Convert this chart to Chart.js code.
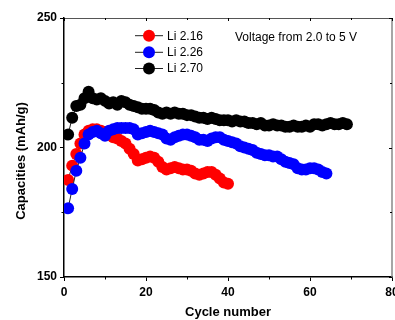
<!DOCTYPE html>
<html>
<head>
<meta charset="utf-8">
<script src="https://cdn.jsdelivr.net/npm/chart.js@4/dist/chart.umd.min.js"></script>
<style>
  html, body { margin: 0; padding: 0; background: #fff; }
  #wrap { width: 395px; height: 320px; }
</style>
</head>
<body>
<div id="wrap"><canvas id="chart" width="395" height="320"></canvas></div>
<script>
// cycle numbers (x), shared by all three series
const cycles = [1,2,3,4,5,6,7,8,9,10,11,12,13,14,15,16,17,18,19,20,
  21,22,23,24,25,26,27,28,29,30,31,32,33,34,35,36,37,38,39,40,
  41,42,43,44,45,46,47,48,49,50,51,52,53,54,55,56,57,58,59,60,
  61,62,63,64,65,66,67,68,69]

const seriesNames = ['Li 2.16', 'Li 2.26', 'Li 2.70']
const seriesColors = ['#ff0000', '#0000ff', '#000000']

// capacities (mAh/g)
const li216 = [187.5,193,197.5,201.5,205,206.5,207,207,206.5,206,
  205,204,203.5,202.5,201.5,199.5,197.5,195,195.5,196,
  196.5,196,194.5,192.5,191.5,192,192.5,192,191.5,191.5,
  191,190,189.5,190,190.5,190.5,189.5,188,186.5,186]

const li226 = [176.5,184,191,196,201.5,205,206,206.5,205.5,204.5,
  206.5,207,207.5,207.5,207.5,207.5,207,205,205.5,206,
  206.5,206,205.5,205,203.5,203,204,204.5,205,205,
  204.5,204,203,203,202.5,203.5,204,204,203,202.5,
  202,201.5,200.5,200,199.5,199,198,197.5,197,197,
  196.5,196.5,195.5,194.5,194,193.5,192,191.5,191.5,192,
  192,191.5,190.5,190]

const li270 = [205,211.5,216,216.5,219,221.5,219,218.5,219,218,
  217,217.5,216.5,218,217.5,216.5,216,215.5,215,215,
  215,214.5,213.5,213,213.5,213,213.5,213,213,212.5,
  212.5,212,211.5,211.5,211,211.5,211,210.5,210.5,210.5,
  210,210.5,210,210,209.5,209.5,209,209.5,208.5,208.5,
  209,208.5,208.5,208,208,208.5,208,208,208.5,208,
  209,209,208.5,209,209.5,209,209,209.5,209]

const xTicks = [0, 20, 40, 60, 80]
const xMinor = [10, 30, 50, 70]
const yTicks = [150, 200, 250]
const yMinor = [175, 225]

const FONT = "'Liberation Sans', Arial, sans-serif"

// frame, minor ticks, inward ticks on top/right, legend, note, y title
const decorPlugin = {
  id: 'decor',
  afterDraw(chart) {
    const ctx = chart.ctx
    const area = chart.chartArea
    const xs = chart.scales.x
    const ys = chart.scales.y
    ctx.save()

    // top and right frame
    ctx.strokeStyle = '#555'
    ctx.lineWidth = 1
    ctx.beginPath()
    ctx.moveTo(area.left, area.top + 0.5)
    ctx.lineTo(area.right, area.top + 0.5)
    ctx.stroke()
    ctx.strokeStyle = '#888'
    ctx.lineWidth = 1.5
    ctx.beginPath()
    ctx.moveTo(area.right, area.top)
    ctx.lineTo(area.right, area.bottom)
    ctx.stroke()

    ctx.strokeStyle = '#000'
    ctx.lineWidth = 1
    ctx.beginPath()
    xTicks.forEach(v => {
      const px = Math.round(xs.getPixelForValue(v)) + 0.5
      ctx.moveTo(px, area.top); ctx.lineTo(px, area.top + 3)
    })
    xMinor.forEach(v => {
      const px = Math.round(xs.getPixelForValue(v)) + 0.5
      ctx.moveTo(px, area.bottom); ctx.lineTo(px, area.bottom + 2.5)
      ctx.moveTo(px, area.top); ctx.lineTo(px, area.top + 2)
    })
    yTicks.forEach(v => {
      const py = Math.round(ys.getPixelForValue(v)) + 0.5
      ctx.moveTo(area.right, py); ctx.lineTo(area.right - 3, py)
    })
    yMinor.forEach(v => {
      const py = Math.round(ys.getPixelForValue(v)) + 0.5
      ctx.moveTo(area.left, py); ctx.lineTo(area.left - 2.5, py)
      ctx.moveTo(area.right, py); ctx.lineTo(area.right - 2, py)
    })
    ctx.stroke()

    // legend
    const legX = 149
    const legY = [35.7, 52.3, 68.5]
    ctx.font = '12px ' + FONT
    ctx.textBaseline = 'middle'
    ctx.textAlign = 'left'
    seriesNames.forEach((name, i) => {
      const y = legY[i]
      ctx.strokeStyle = '#222'
      ctx.lineWidth = 1
      ctx.beginPath()
      ctx.moveTo(legX - 14, y); ctx.lineTo(legX + 14, y)
      ctx.stroke()
      ctx.fillStyle = seriesColors[i]
      ctx.beginPath()
      ctx.arc(legX, y, 6, 0, Math.PI * 2)
      ctx.fill()
      ctx.fillStyle = '#000'
      ctx.fillText(name, legX + 18, y + 0.5)
    })

    // note
    ctx.fillText('Voltage from 2.0 to 5 V', 235, 37.5)

    // y title
    ctx.translate(21, 161)
    ctx.rotate(-Math.PI / 2)
    ctx.font = 'bold 13px ' + FONT
    ctx.textAlign = 'center'
    ctx.fillText('Capacities (mAh/g)', 0, 0)
    ctx.restore()
  }
}

function makeSet(i, values, order) {
  return {
    label: seriesNames[i],
    data: values,
    order: order,
    showLine: true,
    borderColor: '#222',
    borderWidth: 1,
    pointRadius: 6,
    pointHoverRadius: 6,
    pointBorderWidth: 0,
    pointBackgroundColor: seriesColors[i],
    pointBorderColor: seriesColors[i],
    fill: false,
    tension: 0
  }
}

new Chart(document.getElementById('chart'), {
  type: 'line',
  data: {
    labels: cycles,
    datasets: [
      makeSet(0, li216, 3),
      makeSet(1, li226, 2),
      makeSet(2, li270, 1)
    ]
  },
  options: {
    responsive: false,
    animation: false,
    devicePixelRatio: 1,
    layout: { autoPadding: false, padding: { top: 18, right: 3, left: 0, bottom: 0 } },
    plugins: { legend: { display: false }, tooltip: { enabled: false } },
    scales: {
      x: {
        type: 'linear',
        min: 0,
        max: 80,
        afterBuildTicks: s => { s.ticks = xTicks.map(v => ({ value: v })) },
        afterFit: s => { s.height = 43; s.paddingLeft = 0; s.paddingRight = 0 },
        grid: { drawOnChartArea: false, drawTicks: true, tickLength: 4, tickColor: '#000', lineWidth: 1 },
        border: { color: '#000', width: 1.5 },
        ticks: { color: '#000', padding: 4, font: { family: FONT, size: 12, weight: 'bold' }, maxRotation: 0 },
        title: { display: true, text: 'Cycle number', color: '#000', padding: { top: 0, bottom: 0 },
          font: { family: FONT, size: 13, weight: 'bold' } }
      },
      y: {
        min: 150,
        max: 250,
        afterBuildTicks: s => { s.ticks = yTicks.map(v => ({ value: v })) },
        afterFit: s => { s.width = 64; s.paddingTop = 0; s.paddingBottom = 0 },
        grid: { drawOnChartArea: false, drawTicks: true, tickLength: 4, tickColor: '#000', lineWidth: 1 },
        border: { color: '#000', width: 1.5 },
        ticks: { color: '#000', padding: 3, font: { family: FONT, size: 12, weight: 'bold' } }
      }
    }
  },
  plugins: [decorPlugin]
})
</script>
</body>
</html>
